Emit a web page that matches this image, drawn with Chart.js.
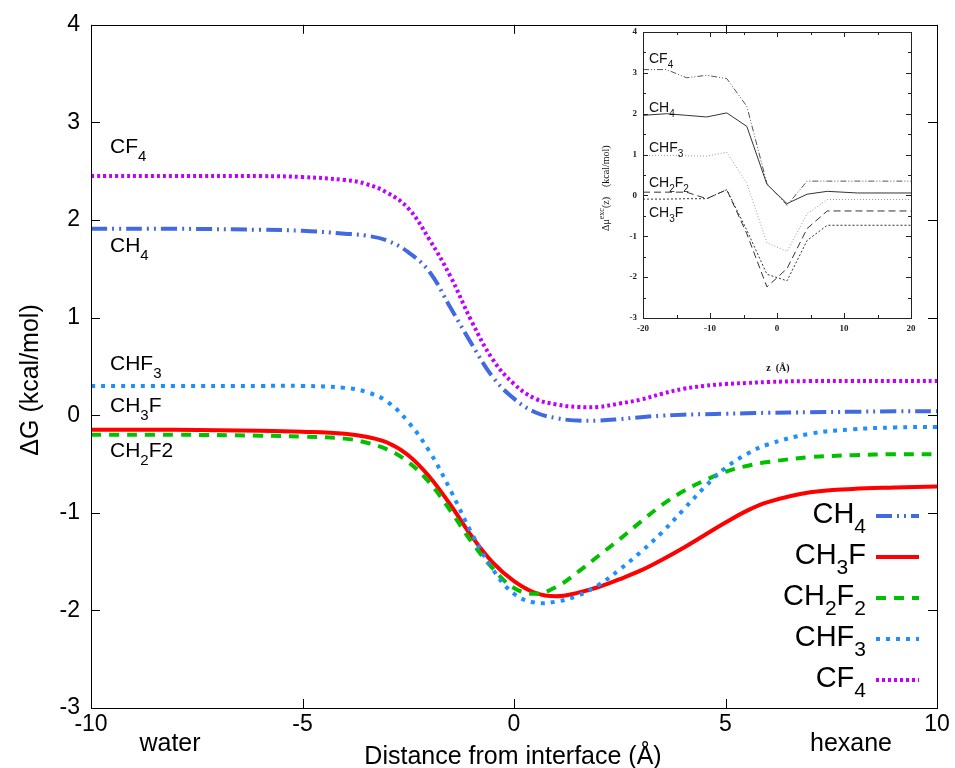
<!DOCTYPE html>
<html>
<head>
<meta charset="utf-8">
<script src="https://cdn.jsdelivr.net/npm/chart.js@4.4.0/dist/chart.umd.min.js"></script>
<style>
  body { margin: 0; background: #fff; }
  #wrap { position: relative; width: 955px; height: 768px; }
  #mainChart { position: absolute; left: 0; top: 0; }
  #insetChart { position: absolute; left: 590px; top: 20px; }
</style>
</head>
<body>
<div id="wrap">
  <canvas id="mainChart" width="955" height="768"></canvas>
  <canvas id="insetChart" width="345" height="360"></canvas>
</div>
<script>
// main chart: free energy profiles
const distance = [-10, -8, -6, -5, -4, -3.5, -3, -2.5, -2, -1.5, -1, -0.5, 0, 0.5, 1, 1.5, 2, 2.5, 3, 3.5, 4, 4.5, 5, 5.5, 6, 7, 8, 9, 10];
const ch4 = [1.91, 1.91, 1.90, 1.89, 1.86, 1.84, 1.79, 1.67, 1.47, 1.10, 0.73, 0.39, 0.17, 0.03, -0.03, -0.055, -0.055, -0.04, -0.02, -0.005, 0.005, 0.01, 0.015, 0.02, 0.025, 0.03, 0.035, 0.04, 0.04];
const ch3f = [-0.15, -0.15, -0.16, -0.17, -0.19, -0.22, -0.28, -0.41, -0.63, -0.92, -1.24, -1.51, -1.70, -1.82, -1.855, -1.82, -1.76, -1.68, -1.59, -1.48, -1.36, -1.23, -1.10, -0.98, -0.89, -0.79, -0.755, -0.74, -0.73];
const ch2f2 = [-0.20, -0.20, -0.21, -0.22, -0.24, -0.28, -0.35, -0.48, -0.69, -0.98, -1.30, -1.57, -1.77, -1.83, -1.76, -1.61, -1.44, -1.27, -1.09, -0.92, -0.78, -0.67, -0.58, -0.52, -0.48, -0.43, -0.41, -0.40, -0.40];
const chf3 = [0.30, 0.30, 0.30, 0.30, 0.28, 0.24, 0.14, -0.07, -0.37, -0.77, -1.21, -1.58, -1.83, -1.92, -1.91, -1.85, -1.74, -1.58, -1.40, -1.20, -0.97, -0.74, -0.54, -0.40, -0.30, -0.19, -0.145, -0.125, -0.12];
const cf4 = [2.45, 2.45, 2.45, 2.44, 2.41, 2.37, 2.28, 2.12, 1.80, 1.42, 0.96, 0.57, 0.32, 0.17, 0.11, 0.085, 0.085, 0.12, 0.16, 0.22, 0.27, 0.30, 0.32, 0.33, 0.34, 0.35, 0.35, 0.35, 0.35];
const xTicks = [-10, -5, 0, 5, 10];
const yTicks = [-3, -2, -1, 0, 1, 2, 3, 4];

// inset: original simulation data
const insetZ = [-20, -16.5, -13.5, -10.5, -7.5, -4.5, -1.5, 1.5, 4.5, 7.5, 12, 20];
const insetCF4 = [3.08, 3.08, 2.88, 2.94, 2.86, 2.18, 0.29, -0.24, 0.35, 0.35, 0.35, 0.35];
const insetCH4 = [1.96, 2.0, 1.96, 1.92, 2.02, 1.69, 0.27, -0.2, 0.03, 0.10, 0.06, 0.06];
const insetCHF3 = [0.98, 0.98, 0.97, 0.96, 1.06, 0.29, -1.16, -1.37, -0.45, -0.10, -0.10, -0.10];
const insetCH2F2 = [0.08, 0.08, 0.08, -0.08, 0.14, -0.94, -2.24, -1.79, -0.81, -0.38, -0.38, -0.38];
const insetCH3F = [-0.09, -0.09, -0.08, -0.08, 0.14, -0.85, -1.93, -2.09, -1.10, -0.73, -0.73, -0.73];

const FONT = "'Liberation Sans', Arial, sans-serif";
const SERIF = "'Liberation Serif', 'DejaVu Serif', serif";

function pts(xs, ys) {
    return xs.map((x, i) => ({ x: x, y: ys[i] }));
}

// draws text like 'CH_4' with the digit after _ as a subscript
function drawFormula(ctx, str, x, y, size, align, family) {
    const parts = [];
    let i = 0;
    while (i < str.length) {
        if (str[i] === '_') {
            parts.push([str[i + 1], true]);
            i += 2;
        } else {
            let j = i;
            while (j < str.length && str[j] !== '_') j++;
            parts.push([str.slice(i, j), false]);
            i = j;
        }
    }
    const subSize = Math.round(size * 0.72);
    let total = 0;
    parts.forEach(p => {
        ctx.font = (p[1] ? subSize : size) + 'px ' + family;
        p.push(ctx.measureText(p[0]).width);
        total += p[2];
    });
    let cx = align === 'right' ? x - total : x;
    ctx.textAlign = 'left';
    ctx.textBaseline = 'alphabetic';
    parts.forEach(p => {
        ctx.font = (p[1] ? subSize : size) + 'px ' + family;
        ctx.fillText(p[0], cx, p[1] ? y + size * 0.36 : y);
        cx += p[2];
    });
}

const seriesStyle = [
    { name: 'CH_4', data: ch4, color: '#4169e1', dash: [16, 5, 2, 5, 2, 5] },
    { name: 'CH_3F', data: ch3f, color: '#ff0000', dash: [] },
    { name: 'CH_2F_2', data: ch2f2, color: '#00c000', dash: [10, 8] },
    { name: 'CHF_3', data: chf3, color: '#1e8fff', dash: [4, 6] },
    { name: 'CF_4', data: cf4, color: '#c000ff', dash: [3, 3] }
];

const mainDecor = {
    id: 'mainDecor',
    afterDraw(chart) {
        const ctx = chart.ctx;
        const a = chart.chartArea;
        const xs = chart.scales.x, ys = chart.scales.y;
        ctx.save();
        ctx.strokeStyle = '#000';
        ctx.lineWidth = 1;
        ctx.setLineDash([]);
        ctx.strokeRect(Math.round(a.left) + 0.5, Math.round(a.top) + 0.5, Math.round(a.right - a.left), Math.round(a.bottom - a.top));
        ctx.beginPath();
        yTicks.forEach(v => {
            const py = Math.round(ys.getPixelForValue(v)) + 0.5;
            ctx.moveTo(a.left, py); ctx.lineTo(a.left + 9, py);
            ctx.moveTo(a.right, py); ctx.lineTo(a.right - 9, py);
        });
        xTicks.forEach(v => {
            const px = Math.round(xs.getPixelForValue(v)) + 0.5;
            ctx.moveTo(px, a.bottom); ctx.lineTo(px, a.bottom - 9);
            ctx.moveTo(px, a.top); ctx.lineTo(px, a.top + 9);
        });
        ctx.stroke();

        ctx.fillStyle = '#000';
        // labels next to the water-side plateaus
        drawFormula(ctx, 'CF_4', 110, 153, 21, 'left', FONT);
        drawFormula(ctx, 'CH_4', 110, 252, 21, 'left', FONT);
        drawFormula(ctx, 'CHF_3', 110, 370, 21, 'left', FONT);
        drawFormula(ctx, 'CH_3F', 110, 412, 21, 'left', FONT);
        drawFormula(ctx, 'CH_2F2', 110, 457, 21, 'left', FONT);

        // phase labels and axis titles
        ctx.font = '25px ' + FONT;
        ctx.textAlign = 'center';
        ctx.textBaseline = 'alphabetic';
        ctx.fillText('water', 170, 751);
        ctx.fillText('hexane', 851, 751);
        ctx.fillText('Distance from interface (\u00c5)', 513, 764);
        ctx.save();
        ctx.translate(38, 380);
        ctx.rotate(-Math.PI / 2);
        ctx.fillText('\u0394G (kcal/mol)', 0, 0);
        ctx.restore();

        // legend
        const rows = [523, 564, 605, 646, 687];
        seriesStyle.forEach((s, i) => {
            drawFormula(ctx, s.name, 866, rows[i], 29, 'right', FONT);
            ctx.beginPath();
            ctx.strokeStyle = s.color;
            ctx.lineWidth = 4;
            ctx.setLineDash(s.dash);
            ctx.moveTo(876, rows[i] - 7);
            ctx.lineTo(919, rows[i] - 7);
            ctx.stroke();
        });
        ctx.restore();
    }
};

new Chart(document.getElementById('mainChart'), {
    type: 'line',
    data: {
        datasets: seriesStyle.slice().reverse().map(s => ({
            label: s.name,
            data: pts(distance, s.data),
            borderColor: s.color,
            borderWidth: 4,
            borderDash: s.dash,
            pointRadius: 0,
            fill: false,
            tension: 0.4
        }))
    },
    options: {
        responsive: false,
        animation: false,
        devicePixelRatio: 1,
        layout: { padding: { left: 0, right: 18, top: 17, bottom: 0 } },
        plugins: { legend: { display: false }, tooltip: { enabled: false } },
        scales: {
            x: {
                type: 'linear', min: -10, max: 10,
                afterFit: s => { s.height = 60; },
                afterBuildTicks: s => { s.ticks = xTicks.map(v => ({ value: v })); },
                grid: { display: false, drawTicks: false },
                border: { display: false },
                ticks: { color: '#000', font: { family: FONT, size: 23 }, padding: 3 }
            },
            y: {
                type: 'linear', min: -3, max: 4,
                afterFit: s => { s.width = 91; },
                afterBuildTicks: s => { s.ticks = yTicks.map(v => ({ value: v })); },
                grid: { display: false, drawTicks: false },
                border: { display: false },
                ticks: { color: '#000', font: { family: FONT, size: 23 }, padding: 11 }
            }
        }
    },
    plugins: [mainDecor]
});

// inset chart
const insetStyle = [
    { name: 'CF_4', data: insetCF4, color: '#555', dash: [6, 2, 1, 2, 1, 2] },
    { name: 'CH_4', data: insetCH4, color: '#333', dash: [] },
    { name: 'CHF_3', data: insetCHF3, color: '#999', dash: [1, 2] },
    { name: 'CH_2F_2', data: insetCH2F2, color: '#333', dash: [7, 4] },
    { name: 'CH_3F', data: insetCH3F, color: '#333', dash: [2, 2] }
];

const insetDecor = {
    id: 'insetDecor',
    afterDraw(chart) {
        const ctx = chart.ctx;
        const a = chart.chartArea;
        const xs = chart.scales.x, ys = chart.scales.y;
        ctx.save();
        ctx.strokeStyle = '#222';
        ctx.lineWidth = 1;
        ctx.strokeRect(Math.round(a.left) + 0.5, Math.round(a.top) + 0.5, Math.round(a.right - a.left), Math.round(a.bottom - a.top));
        ctx.beginPath();
        for (let v = -3; v <= 4; v += 0.5) {
            const py = Math.round(ys.getPixelForValue(v)) + 0.5;
            const len = Number.isInteger(v) ? 5 : 3;
            ctx.moveTo(a.left, py); ctx.lineTo(a.left + len, py);
            ctx.moveTo(a.right, py); ctx.lineTo(a.right - len, py);
        }
        for (let v = -20; v <= 20; v += 5) {
            const px = Math.round(xs.getPixelForValue(v)) + 0.5;
            const len = v % 10 === 0 ? 5 : 3;
            ctx.moveTo(px, a.bottom); ctx.lineTo(px, a.bottom - len);
            ctx.moveTo(px, a.top); ctx.lineTo(px, a.top + len);
        }
        ctx.stroke();

        ctx.fillStyle = '#111';
        drawFormula(ctx, 'CF_4', 59, 43, 14, 'left', FONT);
        drawFormula(ctx, 'CH_4', 59, 92, 14, 'left', FONT);
        drawFormula(ctx, 'CHF_3', 59, 132, 14, 'left', FONT);
        drawFormula(ctx, 'CH_2F_2', 59, 167, 14, 'left', FONT);
        drawFormula(ctx, 'CH_3F', 59, 197, 14, 'left', FONT);

        ctx.font = 'bold 10px ' + SERIF;
        ctx.textAlign = 'center';
        ctx.fillText('z  (\u00c5)', 188, 351);
        ctx.save();
        ctx.translate(19, 143);
        ctx.rotate(-Math.PI / 2);
        ctx.textAlign = 'left';
        ctx.font = '10px ' + SERIF;
        let cx = -68;
        ctx.fillText('\u0394\u03bc', cx, 0);
        cx += ctx.measureText('\u0394\u03bc').width;
        ctx.font = '8px ' + SERIF;
        ctx.fillText('exc', cx, -5);
        cx += ctx.measureText('exc').width;
        ctx.font = '10px ' + SERIF;
        ctx.fillText('(z)    (kcal/mol)', cx, 0);
        ctx.restore();
        ctx.restore();
    }
};

new Chart(document.getElementById('insetChart'), {
    type: 'line',
    data: {
        datasets: insetStyle.map(s => ({
            label: s.name,
            data: pts(insetZ, s.data),
            borderColor: s.color,
            borderWidth: 1,
            borderDash: s.dash,
            pointRadius: 0,
            fill: false,
            tension: 0
        }))
    },
    options: {
        responsive: false,
        animation: false,
        devicePixelRatio: 1,
        layout: { padding: { left: 0, right: 24, top: 12, bottom: 0 } },
        plugins: { legend: { display: false }, tooltip: { enabled: false } },
        scales: {
            x: {
                type: 'linear', min: -20, max: 20,
                afterFit: s => { s.height = 62; },
                afterBuildTicks: s => { s.ticks = [-20, -10, 0, 10, 20].map(v => ({ value: v })); },
                grid: { display: false, drawTicks: false },
                border: { display: false },
                ticks: { color: '#222', font: { family: SERIF, size: 9, weight: 'bold' }, padding: 5 }
            },
            y: {
                type: 'linear', min: -3, max: 4,
                afterFit: s => { s.width = 53; },
                afterBuildTicks: s => { s.ticks = [-3, -2, -1, 0, 1, 2, 3, 4].map(v => ({ value: v })); },
                grid: { display: false, drawTicks: false },
                border: { display: false },
                ticks: { color: '#222', font: { family: SERIF, size: 9, weight: 'bold' }, padding: 6 }
            }
        }
    },
    plugins: [insetDecor]
});
</script>
</body>
</html>
